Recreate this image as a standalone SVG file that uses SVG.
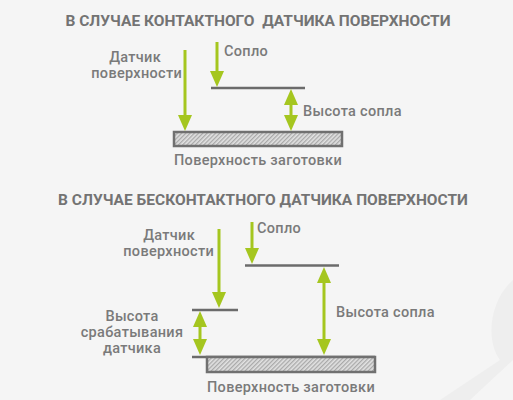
<svg xmlns="http://www.w3.org/2000/svg" width="513" height="400" viewBox="0 0 513 400">
<style>
.t{font-family:Roboto,"Liberation Sans",sans-serif;font-weight:700;font-size:15.5px;fill:#737373;white-space:pre}
.l{font-family:Roboto,"Liberation Sans",sans-serif;font-weight:500;font-size:14.5px;letter-spacing:0.3px;fill:#7a7a7a}
.g{stroke:#a5c61f;stroke-width:3;fill:none}
.s{stroke:#6b6b6b;stroke-width:2.5;fill:none}
.w{fill:url(#hatch);stroke:#707070;stroke-width:2.5}
</style>
<defs>
<marker id="ah" viewBox="0 0 16 14" markerWidth="16" markerHeight="14" refX="8" refY="7" orient="auto-start-reverse" markerUnits="userSpaceOnUse">
<path d="M0,0 L16,7 L0,14 z" fill="#a5c61f"/>
</marker>
<pattern id="hatch" width="3" height="3" patternUnits="userSpaceOnUse" patternTransform="rotate(45)">
<rect width="3" height="3" fill="#e2e2e2"/>
<rect width="1.3" height="3" fill="#a9a9a9"/>
</pattern>
</defs>
<rect width="513" height="400" fill="#f5f5f5"/>
<path d="M513,280 C490,300 485,340 500,360 L440,400 L470,400 L513,360 Z" fill="#eeeeee"/>
<text class="t" x="258" y="26" text-anchor="middle" xml:space="preserve">В СЛУЧАЕ КОНТАКТНОГО  ДАТЧИКА ПОВЕРХНОСТИ</text>
<text class="t" x="263" y="205" text-anchor="middle">В СЛУЧАЕ БЕСКОНТАКТНОГО ДАТЧИКА ПОВЕРХНОСТИ</text>

<g id="top-workpiece">
<rect class="w" x="174" y="132" width="168" height="14"/>
<text class="l" x="258" y="165" text-anchor="middle">Поверхность заготовки</text>
</g>
<g id="top-nozzle">
<line class="s" x1="211" y1="88" x2="305" y2="88"/>
<text class="l" x="224" y="56">Сопло</text>
</g>
<g id="top-sensor">
<text class="l" text-anchor="end"><tspan x="161" y="62">Датчик</tspan><tspan x="182" y="78">поверхности</tspan></text>
</g>
<g id="top-height">
<text class="l" x="303" y="115.5">Высота сопла</text>
</g>

<g id="bot-workpiece">
<line class="s" x1="192" y1="357" x2="375" y2="357"/>
<rect class="w" x="207" y="357" width="168" height="15"/>
<text class="l" x="291" y="392" text-anchor="middle">Поверхность заготовки</text>
</g>
<g id="bot-nozzle">
<line class="s" x1="245" y1="265.5" x2="339" y2="265.5"/>
<text class="l" x="257" y="233">Сопло</text>
</g>
<g id="bot-sensor">
<line class="s" x1="192" y1="310" x2="238" y2="310"/>
<text class="l" text-anchor="end"><tspan x="195" y="239.5">Датчик</tspan><tspan x="214" y="255.5">поверхности</tspan></text>
</g>
<g id="bot-trigger">
<text class="l" text-anchor="middle"><tspan x="132" y="321">Высота</tspan><tspan x="132" y="337">срабатывания</tspan><tspan x="132" y="353">датчика</tspan></text>
</g>
<g id="bot-height">
<text class="l" x="336" y="317">Высота сопла</text>
</g>

<g id="connectors">
<line class="g" x1="185" y1="50" x2="185" y2="123" marker-end="url(#ah)"/>
<line class="g" x1="217" y1="42" x2="217" y2="79" marker-end="url(#ah)"/>
<line class="g" x1="291" y1="97" x2="291" y2="123" marker-start="url(#ah)" marker-end="url(#ah)"/>
<line class="g" x1="252" y1="222" x2="252" y2="256" marker-end="url(#ah)"/>
<line class="g" x1="219" y1="229" x2="219" y2="300" marker-end="url(#ah)"/>
<line class="g" x1="200" y1="319" x2="200" y2="347" marker-start="url(#ah)" marker-end="url(#ah)"/>
<line class="g" x1="324" y1="275" x2="324" y2="347" marker-start="url(#ah)" marker-end="url(#ah)"/>
</g>
</svg>
